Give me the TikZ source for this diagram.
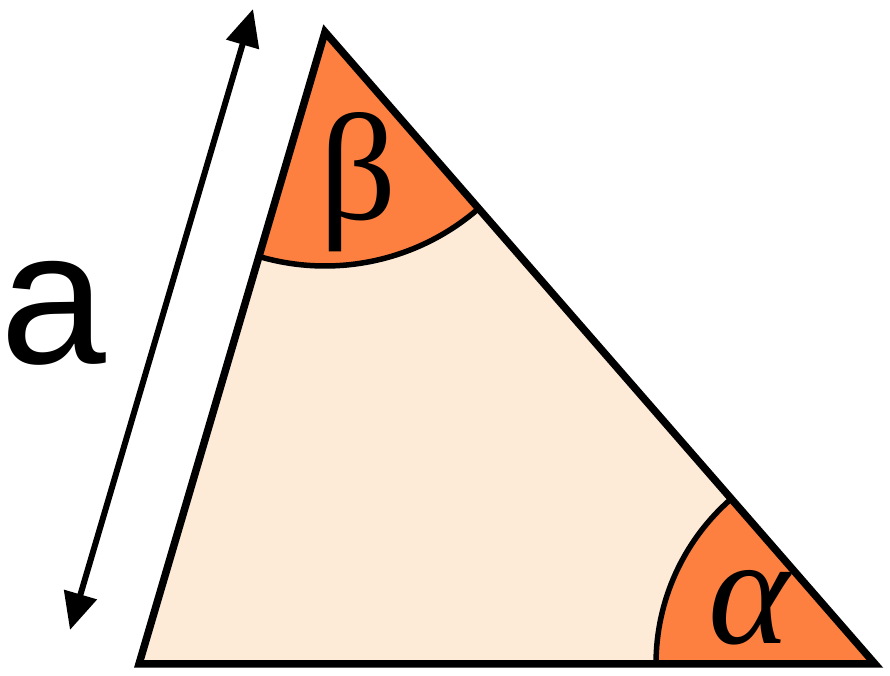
\documentclass[tikz,border=0pt]{standalone}
\usepackage{fontspec}
\setmainfont{Liberation Serif}
\newfontfamily\sidefont{Liberation Sans}
\usetikzlibrary{arrows.meta}
\definecolor{palepeach}{RGB}{253,235,216}
\definecolor{angleorange}{RGB}{253,128,64}
\tikzset{edge/.style={draw,line width=7.5pt},
	 anglearc/.style={draw,line width=5.5pt},
	 sector/.style={fill=angleorange},
	 dimarrow/.style={line width=6pt,{Triangle[length=37pt,width=33pt]}-{Triangle[length=37pt,width=33pt]}},
	 lbl/.style={inner sep=0pt}
	 }
\begin{document}
\begin{tikzpicture}[x=1pt,y=1pt] % triangle with two angles
	\useasboundingbox (0,0) rectangle (890,676);
	\coordinate (A) at (139,12);
	\coordinate (B) at (875,12);
	\coordinate (C) at (325,644);
	\coordinate (t1) at (70,46);
	\coordinate (t2) at (253,667);
	\fill[palepeach] (A) -- (B) -- (C) -- cycle;
	\fill[sector] (C) -- ++(253.6:234pt) arc[start angle=253.6,end angle=311.0,radius=234pt] -- cycle;
	\fill[sector] (B) -- ++(180:219pt) arc[start angle=180,end angle=131.0,radius=219pt] -- cycle;
	\draw[anglearc] (C) ++(253.6:234pt) arc[start angle=253.6,end angle=311.0,radius=234pt];
	\draw[anglearc] (B) ++(180:219pt) arc[start angle=180,end angle=131.0,radius=219pt];
	\draw[edge] (A) -- (B) -- (C) -- cycle;
	\draw[dimarrow] (t1) -- (t2);
	\node[lbl] (side) at (53,363) {\fontsize{190}{190}\selectfont\sidefont a};
	\node[lbl] (beta) at (358,494) {\fontsize{152}{152}\selectfont β};
	\node[lbl] (alpha) at (749,68) {\fontsize{155}{155}\selectfont\itshape α};
\end{tikzpicture}
\end{document}
